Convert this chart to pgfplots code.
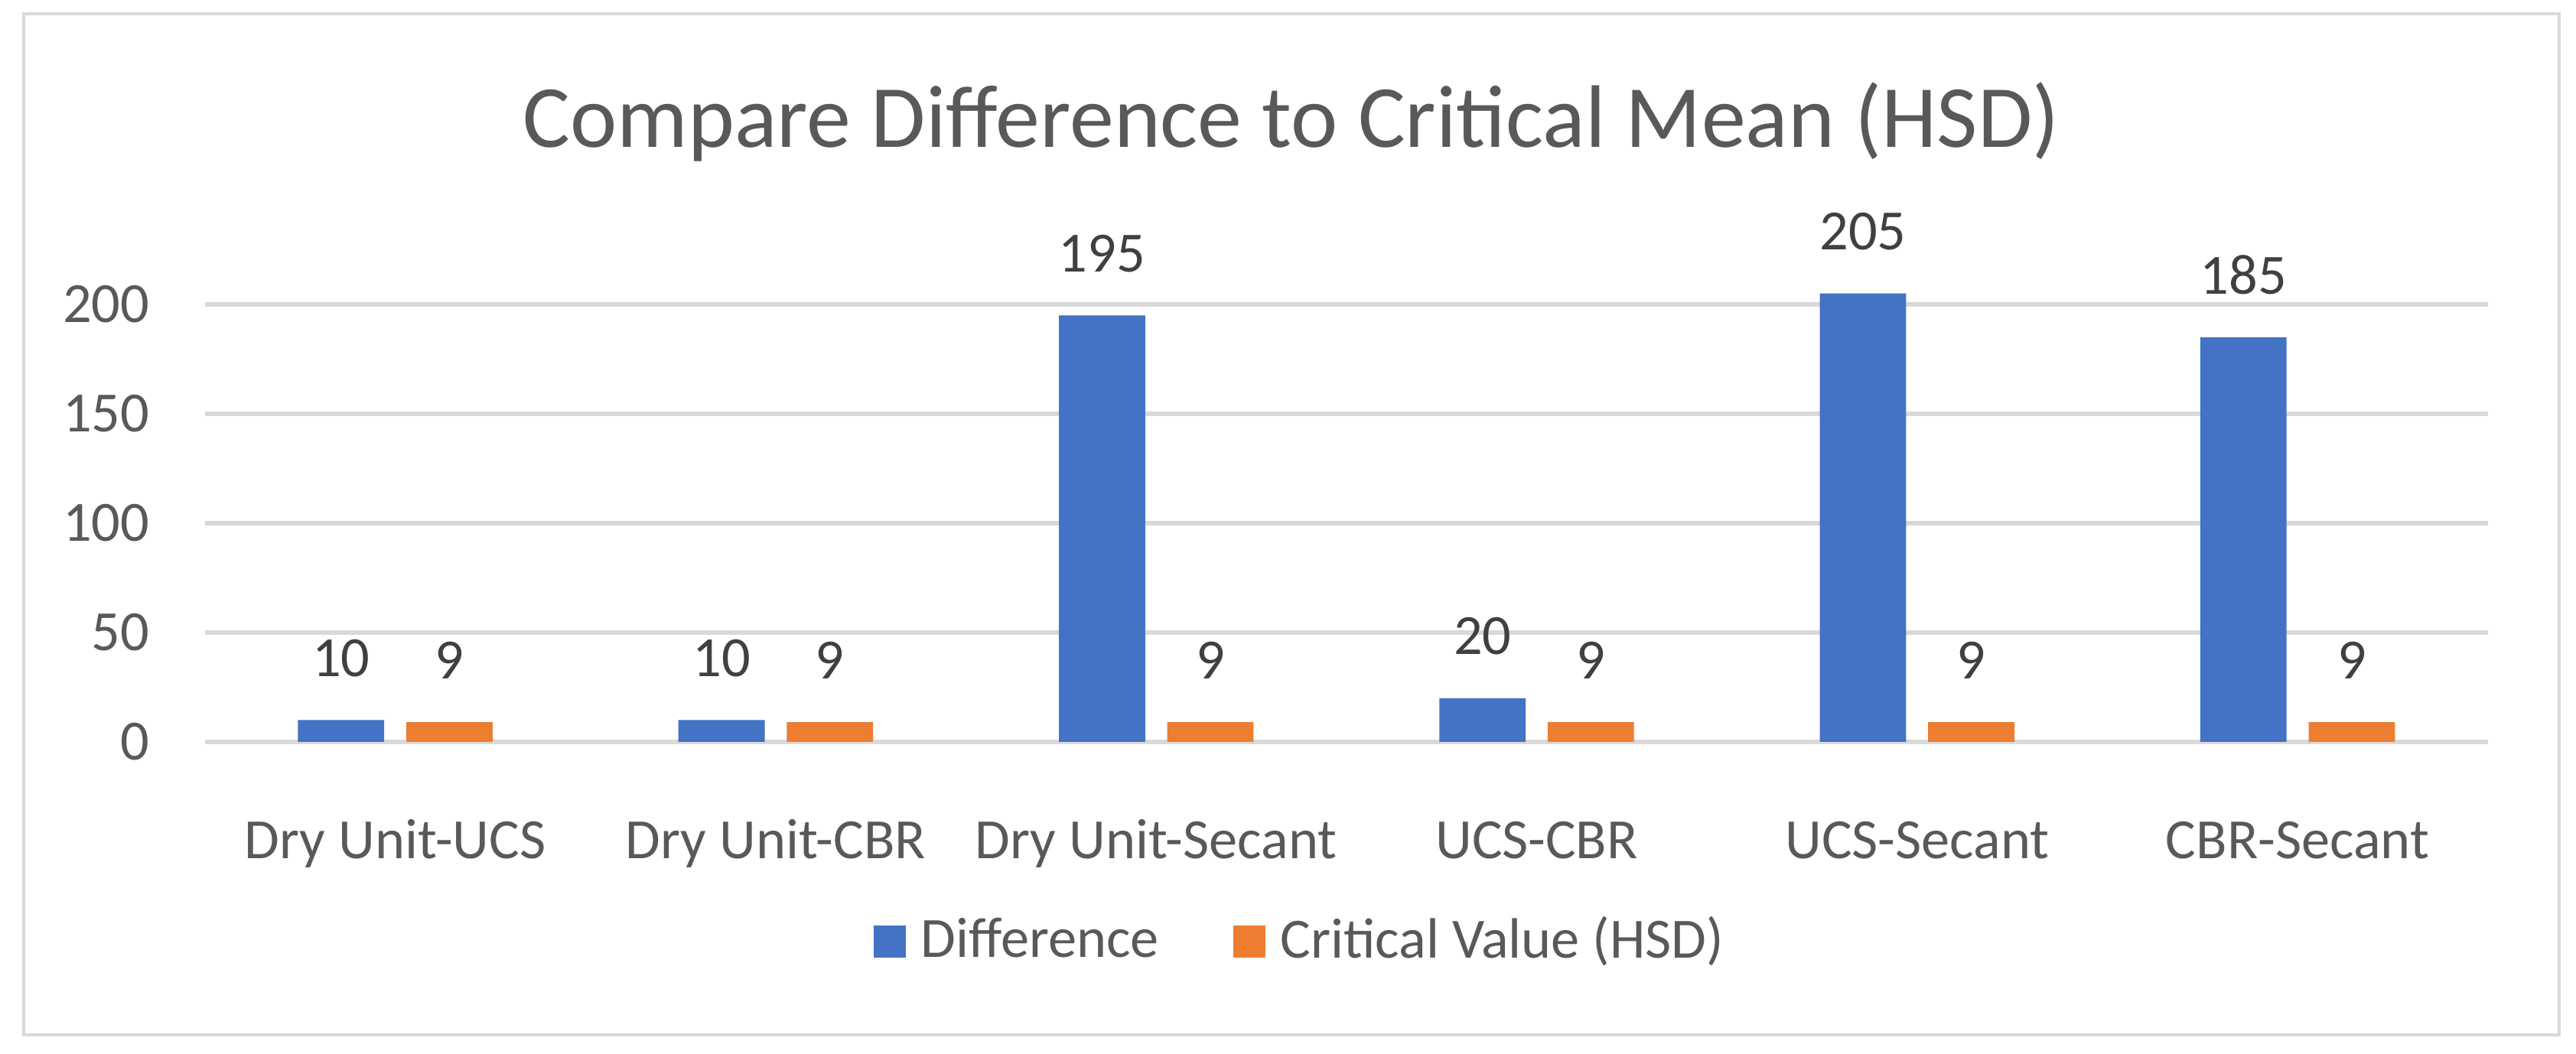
\documentclass[border=0pt]{standalone}
\usepackage{fontspec}
\setmainfont{Carlito}
\usepackage{pgfplots}
\pgfplotsset{compat=1.18}
\pgfplotsset{/pgf/number format/assume math mode=true}
\definecolor{barA}{HTML}{4472C4}
\definecolor{barB}{HTML}{ED7D31}
\definecolor{gridC}{HTML}{D9D9D9}
\definecolor{txtC}{HTML}{595959}
\definecolor{labC}{HTML}{404040}
\newcommand\nf{\fontsize{9.3}{11}\selectfont}
\begin{document}
\begin{tikzpicture}
\begin{axis}[
    at={(0pt,0pt)}, anchor=south west,
    scale only axis,
    width=373pt, height=80.44pt,
    ybar=3.6pt, bar width=14.1pt,
    xmin=-0.5, xmax=5.5,
    ymin=0, ymax=225,
    enlarge x limits=false, enlarge y limits=false,
    xtick=data,
    xticklabels={Dry Unit-UCS, Dry Unit-CBR, Dry Unit-Secant, UCS-CBR, UCS-Secant, CBR-Secant},
    ytick={0,50,100,150,200},
    ymajorgrids,
    grid style={draw=gridC, line width=0.8pt},
    axis line style={draw=none},
    major tick style={draw=none},
    minor tick style={draw=none},
    xticklabel style={font=\nf, text=txtC, anchor=base, yshift=-14.75pt},
    yticklabel style={font=\nf, text=txtC, anchor=east, inner sep=0pt, xshift=-8.9pt},
    clip=false,
    nodes near coords,
    every node near coord/.append style={font=\nf, text=labC, anchor=base, yshift=7.1pt},
    legend columns=-1,
    legend style={draw=none, fill=none, font=\nf, text=txtC,
        at={(axis description cs:0.2929,-0.4065)}, anchor=west,
        inner sep=0pt, outer sep=0pt,
        nodes={inner sep=0pt},
        column sep=2.5pt,
        /tikz/every even column/.append style={column sep=12.1pt}},
]
\addplot[fill=barA, draw=none,
    legend image code/.code={\fill[barA] (0pt,-2.6pt) rectangle (5.25pt,2.65pt);}]
  coordinates {(0,10) (1,10) (2,195) (3,20) (4,205) (5,185)};
\addlegendentry{Difference}
\addplot[fill=barB, draw=none,
    legend image code/.code={\fill[barB] (0pt,-2.6pt) rectangle (5.25pt,2.65pt);}]
  coordinates {(0,9) (1,9) (2,9) (3,9) (4,9) (5,9)};
\addlegendentry{Critical Value (HSD)}
\end{axis}
\node[anchor=base, text=txtC, font=\fontsize{14.5}{17}\selectfont] at (177.5pt,97.25pt) {Compare Difference to Critical Mean (HSD)};
\draw[gridC, line width=0.5pt] (-29.6pt,-47.9pt) rectangle (384.6pt,119pt);
\pgfresetboundingbox
\path (-33.5pt,-50.9pt) rectangle (387.4pt,121.25pt);
\end{tikzpicture}
\end{document}
